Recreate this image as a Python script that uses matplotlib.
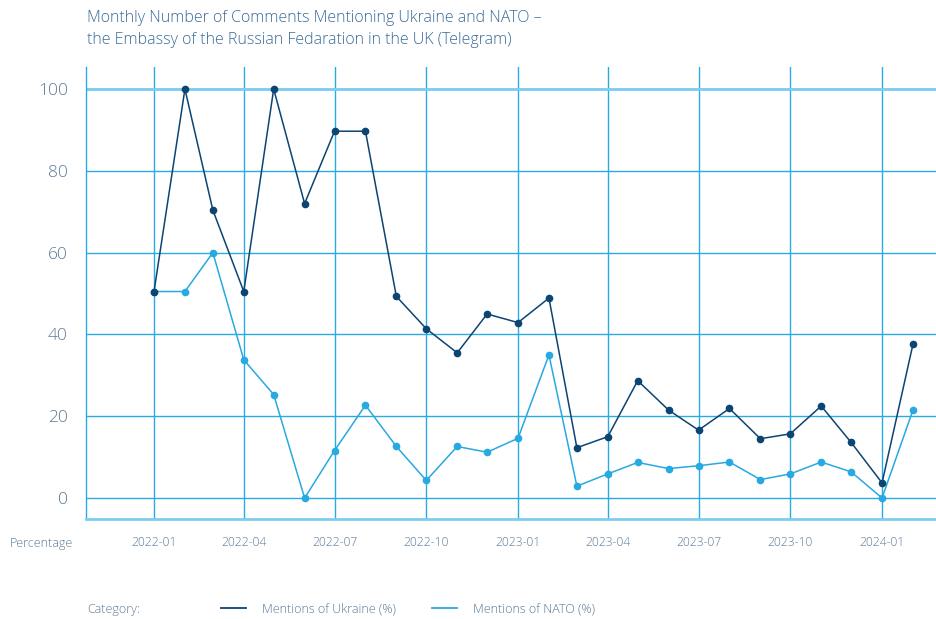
import matplotlib
matplotlib.use("Agg")
import matplotlib.pyplot as plt
from matplotlib.lines import Line2D
import datetime as dt

plt.rcParams['font.family'] = ['Open Sans', 'DejaVu Sans']

months = ["2022-01", "2022-02", "2022-03", "2022-04", "2022-05", "2022-06",
          "2022-07", "2022-08", "2022-09", "2022-10", "2022-11", "2022-12",
          "2023-01", "2023-02", "2023-03", "2023-04", "2023-05", "2023-06",
          "2023-07", "2023-08", "2023-09", "2023-10", "2023-11", "2023-12",
          "2024-01", "2024-02"]
ukraine = [50.5, 100, 70.4, 50.5, 100, 72.0, 89.7, 89.7, 49.3, 41.4, 35.5, 45.0,
           42.9, 48.9, 12.3, 15.0, 28.7, 21.5, 16.6, 21.9, 14.5, 15.7, 22.5, 13.6,
           3.7, 37.6]
nato = [50.5, 50.5, 60.0, 33.8, 25.3, 0.0, 11.6, 22.7, 12.6, 4.3, 12.6, 11.2,
        14.6, 35.0, 2.9, 5.9, 8.7, 7.2, 7.9, 8.8, 4.5, 5.9, 8.8, 6.4,
        0.0, 21.5]
xtick_labels = ["2022-01", "2022-04", "2022-07", "2022-10", "2023-01",
                "2023-04", "2023-07", "2023-10", "2024-01"]
ytick_values = [0, 20, 40, 60, 80, 100]

title = ("Monthly Number of Comments Mentioning Ukraine and NATO \u2013\n"
         "the Embassy of the Russian Fedaration in the UK (Telegram)")

dates = [dt.datetime.strptime(m, "%Y-%m") for m in months]
tick_dates = [dt.datetime.strptime(m, "%Y-%m") for m in xtick_labels]

c_ukr = "#0c4472"
c_nato = "#27a9e1"
c_grid = "#29abe2"
c_grid_light = "#7ccdef"
c_text = "#5b7a97"
c_title = "#3b6c98"

W, H = 937, 619
fig = plt.figure(figsize=(W / 100, H / 100), dpi=100)
ax = fig.add_axes([86 / W, 1 - 519 / H, 1 - 86 / W, (519 - 67) / H])

ax.plot(dates, ukraine, color=c_ukr, lw=1.1, marker='o', ms=4.5, zorder=4)
ax.plot(dates, nato, color=c_nato, lw=1.1, marker='o', ms=4.5, zorder=3)

ax.set_ylim(-5.13, 105.4)
ax.set_xlim(dt.datetime(2022, 1, 1) - dt.timedelta(days=68.2),
            dt.datetime(2024, 1, 1) + dt.timedelta(days=55.1))
ax.set_yticks(ytick_values)
ax.set_xticks(tick_dates)
ax.set_xticklabels(xtick_labels)
ax.tick_params(axis='both', length=0, colors=c_text)
ax.tick_params(axis='y', labelsize=12.5, pad=13)
ax.tick_params(axis='x', labelsize=8.7, pad=12)
for lab in ax.get_yticklabels() + ax.get_xticklabels():
    lab.set_fontweight('light')

ax.grid(True, color=c_grid, lw=1.0, zorder=1)
ax.axhline(ytick_values[-1], color=c_grid_light, lw=2.0, zorder=1.5)
ax.set_axisbelow(True)
for s in ['top', 'right']:
    ax.spines[s].set_visible(False)
ax.spines['left'].set_color(c_grid)
ax.spines['left'].set_linewidth(1.0)
ax.spines['bottom'].set_color(c_grid_light)
ax.spines['bottom'].set_linewidth(2.0)

fig.text(87 / W, 1 - 29 / H, title, color=c_title, fontsize=11.5,
         fontweight='light', va='center', ha='left', linespacing=1.45)
fig.text(10 / W, 1 - 543 / H, "Percentage", color=c_text, fontsize=9,
         fontweight='light', va='center', ha='left')
fig.text(87 / W, 1 - 609 / H, "Category:", color=c_text, fontsize=9,
         fontweight='light', va='center', ha='left')

handles = [Line2D([], [], color=c_ukr, lw=1.3), Line2D([], [], color=c_nato, lw=1.3)]
leg = fig.legend(handles, ["Mentions of Ukraine (%)", "Mentions of NATO (%)"],
                 loc='center left', bbox_to_anchor=(210 / W, 1 - 609 / H),
                 ncol=2, frameon=False, fontsize=9, handlelength=2.0,
                 handletextpad=1.25, columnspacing=2.9)
for t in leg.get_texts():
    t.set_color(c_text)
    t.set_fontweight('light')

fig.savefig("out.png", dpi=100)
